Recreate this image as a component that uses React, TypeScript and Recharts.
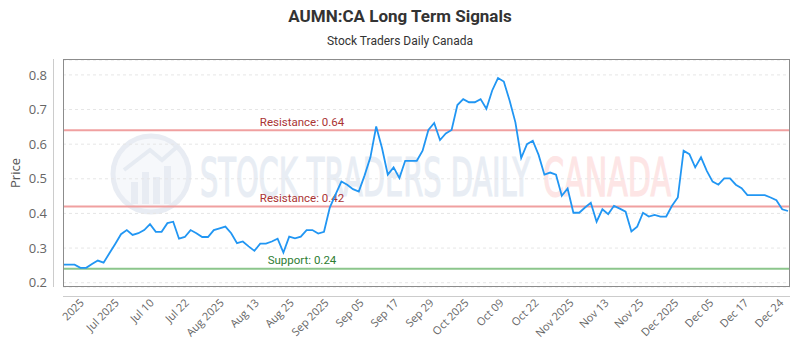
import React from "react";
import { LineChart, Line, XAxis, YAxis, CartesianGrid, ReferenceLine } from "recharts";

// daily closes
const prices = [
  0.252, 0.252, 0.252, 0.243, 0.243, 0.254, 0.264, 0.258, 0.285, 0.312,
  0.340, 0.352, 0.338, 0.343, 0.352, 0.369, 0.347, 0.347, 0.372, 0.376,
  0.327, 0.332, 0.352, 0.343, 0.332, 0.332, 0.352, 0.357, 0.362, 0.343,
  0.314, 0.319, 0.305, 0.292, 0.313, 0.313, 0.319, 0.327, 0.287, 0.333,
  0.328, 0.333, 0.352, 0.352, 0.342, 0.347, 0.417, 0.455, 0.492, 0.483,
  0.470, 0.463, 0.510, 0.562, 0.651, 0.589, 0.512, 0.533, 0.502, 0.552,
  0.552, 0.552, 0.581, 0.641, 0.661, 0.612, 0.631, 0.641, 0.713, 0.730,
  0.721, 0.721, 0.730, 0.702, 0.755, 0.791, 0.781, 0.726, 0.663, 0.560,
  0.600, 0.610, 0.569, 0.512, 0.518, 0.512, 0.451, 0.472, 0.402, 0.402,
  0.417, 0.431, 0.376, 0.412, 0.398, 0.422, 0.414, 0.405, 0.348, 0.362,
  0.402, 0.391, 0.396, 0.391, 0.391, 0.422, 0.446, 0.581, 0.571, 0.533,
  0.562, 0.523, 0.492, 0.483, 0.501, 0.501, 0.483, 0.473, 0.453, 0.453,
  0.453, 0.453, 0.446, 0.438, 0.412, 0.407,
];

const tickLabels = [
  "2025", "Jul 2025", "Jul 10", "Jul 22", "Aug 2025", "Aug 13", "Aug 25",
  "Sep 2025", "Sep 05", "Sep 17", "Sep 29", "Oct 2025", "Oct 09", "Oct 22",
  "Nov 2025", "Nov 13", "Nov 25", "Dec 2025", "Dec 05", "Dec 17", "Dec 24",
];

const resistanceLevels = [0.64, 0.42];
const supportLevels = [0.24];
const yTicks = [0.2, 0.3, 0.4, 0.5, 0.6, 0.7, 0.8];

// labels sit roughly every 6 sessions
const TICK_START = 2.8;
const TICK_EVERY = 6.03;

const data = prices.map((price, idx) => ({ idx, price }));
const xTicks = tickLabels.map((_, k) => TICK_START + k * TICK_EVERY);

const FONT = "'Open Sans', sans-serif";
const TITLE_FONT = "Roboto, sans-serif";
const MARK_FONT = "'DejaVu Sans Condensed', 'DejaVu Sans', sans-serif";

const levelLabel = (text: string, color: string) => (props: any) => {
  const { viewBox } = props;
  return (
    <text
      x={viewBox.x + 239}
      y={viewBox.y - 4.5}
      textAnchor="middle"
      fill={color}
      fontSize={11.5}
      fontFamily={TITLE_FONT}
    >
      {text}
    </text>
  );
};

const Watermark = () => (
  <svg width={800} height={350} style={{ position: "absolute", left: 0, top: 0 }}>
    <circle cx={151} cy={174} r={38} fill="#f6f8fb" stroke="#e8ecf3" strokeWidth={5} />
    <polyline points="124,170 150,150 162,160 178,146" fill="none" stroke="#e6ebf2" strokeWidth={4} />
    <rect x={131} y={182} width={7} height={22} fill="#e8ecf3" />
    <rect x={142} y={172} width={7} height={32} fill="#e8ecf3" />
    <rect x={153} y={177} width={7} height={27} fill="#e8ecf3" />
    <rect x={164} y={166} width={7} height={38} fill="#e8ecf3" />
    <text
      x={200}
      y={196}
      fontSize={54}
      fontFamily={MARK_FONT}
      fill="#e8edf4"
      stroke="#e8edf4"
      strokeWidth={1.2}
      textLength={330}
      lengthAdjust="spacingAndGlyphs"
    >
      STOCK TRADERS DAILY
    </text>
    <text
      x={543}
      y={196}
      fontSize={54}
      fontFamily={MARK_FONT}
      fill="#fde5e5"
      stroke="#fde5e5"
      strokeWidth={1.2}
      textLength={128}
      lengthAdjust="spacingAndGlyphs"
    >
      CANADA
    </text>
  </svg>
);

const Frame = () => (
  <svg
    width={800}
    height={350}
    style={{ position: "absolute", left: 0, top: 0, pointerEvents: "none" }}
  >
    <text x={400} y={22} textAnchor="middle" fontSize={17} fontWeight="bold" fill="#333" fontFamily={TITLE_FONT}>
      AUMN:CA Long Term Signals
    </text>
    <text x={400} y={45} textAnchor="middle" fontSize={12} fill="#333" fontFamily={TITLE_FONT}>
      Stock Traders Daily Canada
    </text>
    <text
      x={0}
      y={0}
      transform="translate(20,173) rotate(-90)"
      textAnchor="middle"
      fontSize={13}
      fill="#555"
      fontFamily={FONT}
    >
      Price
    </text>
    <rect x={63.5} y={59.5} width={726} height={227} fill="none" stroke="#8c8c8c" />
    <line x1={53.5} y1={59} x2={53.5} y2={287} stroke="#cccccc" />
    <line x1={63} y1={296.5} x2={790} y2={296.5} stroke="#cccccc" />
  </svg>
);

export default function App() {
  return (
    <div style={{ position: "fixed", left: 0, top: 0, width: 800, height: 350, background: "#fff" }}>
      <Watermark />
      <div style={{ position: "absolute", left: 0, top: 0 }}>
        <LineChart
          width={800}
          height={350}
          data={data}
          margin={{ top: 60, right: 10, bottom: 3, left: 8 }}
        >
          <CartesianGrid vertical={false} stroke="#e6e6e6" strokeDasharray="3 3" />
          <XAxis
            dataKey="idx"
            type="number"
            domain={[0, prices.length - 1]}
            ticks={xTicks}
            interval={0}
            tickFormatter={(v: number) => tickLabels[Math.round((v - TICK_START) / TICK_EVERY)]}
            axisLine={false}
            tickLine={false}
            tickSize={0}
            tickMargin={11}
            height={60}
            padding={{ left: 0, right: 2 }}
            tick={{ angle: -45, textAnchor: "end", fontSize: 11, fill: "#666", fontFamily: FONT }}
          />
          <YAxis
            type="number"
            domain={[0.1876, 0.843]}
            ticks={yTicks}
            allowDataOverflow
            axisLine={false}
            tickLine={false}
            tickSize={0}
            tickMargin={16}
            width={55}
            tickFormatter={(v: number) => v.toFixed(1)}
            tick={{ fontSize: 13, fill: "#666", fontFamily: FONT }}
          />
          {resistanceLevels.map((lvl) => (
            <ReferenceLine
              key={`r-${lvl}`}
              y={lvl}
              stroke="#f0a0a0"
              strokeWidth={2}
              label={levelLabel(`Resistance: ${lvl.toFixed(2)}`, "#aa3333")}
            />
          ))}
          {supportLevels.map((lvl) => (
            <ReferenceLine
              key={`s-${lvl}`}
              y={lvl}
              stroke="#8cc68c"
              strokeWidth={2}
              label={levelLabel(`Support: ${lvl.toFixed(2)}`, "#2e7d32")}
            />
          ))}
          <Line
            type="linear"
            dataKey="price"
            stroke="#2196f3"
            strokeWidth={1.8}
            dot={false}
            isAnimationActive={false}
          />
        </LineChart>
      </div>
      <Frame />
    </div>
  );
}
